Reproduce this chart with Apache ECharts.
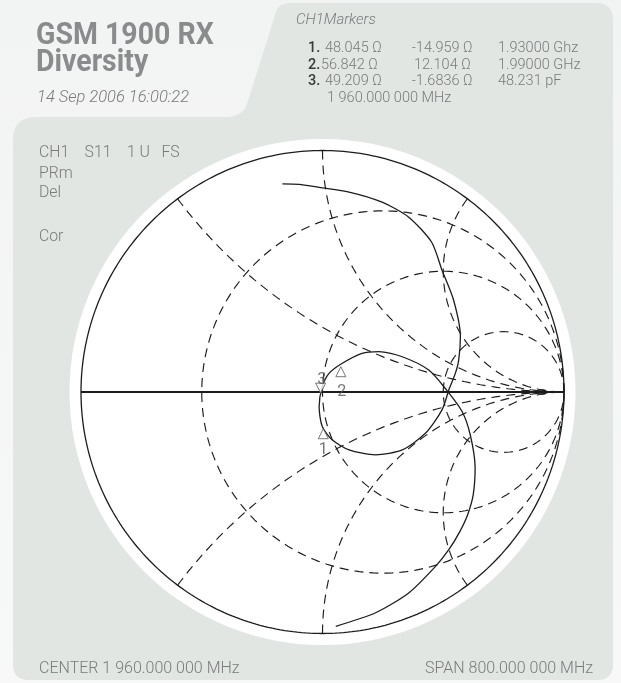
<!DOCTYPE html>
<html><head><meta charset="utf-8">
<script src="https://cdn.jsdelivr.net/npm/echarts@6/dist/echarts.min.js"></script>
<style>html,body{margin:0;padding:0;background:#f5f6f6;}#c{width:621px;height:683px;}</style>
</head><body><div id="c"></div>
<script>
const traceRe = [-0.166,-0.097,-0.014,0.110,0.247,0.357,0.452,0.495,0.543,0.571,0.564,0.550,0.523,0.495,0.426,0.330,0.220,0.110,0.040,-0.001,-0.014,-0.001,0.027,0.082,0.164,0.233,0.330,0.440,0.514,0.578,0.612,0.632,0.624,0.601,0.568,0.523,0.468,0.357,0.220,0.055];
const traceIm = [0.862,0.860,0.847,0.828,0.786,0.724,0.620,0.504,0.380,0.229,0.132,0.077,0.008,-0.074,-0.171,-0.240,-0.260,-0.240,-0.198,-0.143,-0.061,0.022,0.077,0.119,0.160,0.167,0.146,0.091,0.008,-0.081,-0.178,-0.314,-0.426,-0.508,-0.579,-0.653,-0.722,-0.832,-0.914,-0.970];

// markers (ohms)
const markerNames = ['1','2','3'];
const markerR = [48.045, 56.842, 49.209];
const markerX = [-14.959, 12.104, -1.6836];
const markerRText = ['48.045 Ω','56.842 Ω','49.209 Ω'];
const markerXText = ['-14.959 Ω','12.104 Ω','-1.6836 Ω'];
const markerThirdText = ['1.93000 Ghz','1.99000 GHz','48.231 pF'];
const markerFreqLine = '1 960.000 000 MHz';
const z0 = 50;

// Smith grid
const resistanceCircles = [1/3, 1, 3];
const reactanceArcs = [0.5, 1, 2, -0.5, -1, -2];
const refMarker = [0.909, 0];

// texts
const titleLines = ['GSM 1900 RX', 'Diversity'];
const dateText = '14 Sep 2006 16:00:22';
const markersTitle = 'CH1Markers';
const statusLines = ['CH1    S11    1 U   FS', 'PRm', 'Del', '', 'Cor'];
const centerText = 'CENTER 1 960.000 000 MHz';
const spanText = 'SPAN 800.000 000 MHz';

// ---- helpers ----
function toGamma(R, X) {
  const r = R / z0, x = X / z0, dr = r + 1, nr = r - 1, den = dr * dr + x * x;
  return [(nr * dr + x * x) / den, (x * dr - nr * x) / den];
}
function circlePts(cx, cy, rad, n) {
  const p = [];
  for (let i = 0; i <= n; i++) { const t = i / n * 2 * Math.PI; p.push([cx + rad * Math.cos(t), cy + rad * Math.sin(t)]); }
  return p;
}
function xArcPts(x) {
  const c = 1 / x, rho = Math.abs(c);
  const ix = (x * x - 1) / (x * x + 1), iy = 2 * x / (x * x + 1);
  let t0 = x > 0 ? -Math.PI / 2 : Math.PI / 2;
  let t1 = Math.atan2(iy - c, ix - 1);
  if (x > 0 && t1 > t0) t1 -= 2 * Math.PI;
  if (x < 0 && t1 < t0) t1 += 2 * Math.PI;
  const p = [], n = 80;
  for (let i = 0; i <= n; i++) { const t = t1 + (t0 - t1) * i / n; p.push([1 + rho * Math.cos(t), c + rho * Math.sin(t)]); }
  return p;
}
function roundedPoly(cmds) {
  const pts = []; let cur = null;
  for (const c of cmds) {
    if (c[0] === 'M' || c[0] === 'L') { cur = [c[1], c[2]]; pts.push(cur); }
    else {
      const cx = c[1], cy = c[2], x = c[3], y = c[4];
      for (let i = 1; i <= 14; i++) { const t = i / 14, a = (1 - t) * (1 - t), b = 2 * (1 - t) * t, d = t * t;
        pts.push([a * cur[0] + b * cx + d * x, a * cur[1] + b * cy + d * y]); }
      cur = [x, y];
    }
  }
  return pts;
}

const chart = echarts.init(document.getElementById('c'), null, {renderer: 'canvas'});
const INK = '#1c1c1c';
const dashStyle = {color: INK, width: 1.15, type: [9, 6]};
const series = [];
function lineSeries(data, style, z) {
  series.push({type: 'line', data, showSymbol: false, symbol: 'none', silent: true, clip: false,
    lineStyle: style, z: z || 3, animation: false});
}
resistanceCircles.forEach(r => lineSeries(circlePts(r / (1 + r), 0, 1 / (1 + r), 240), dashStyle));
reactanceArcs.forEach(x => lineSeries(xArcPts(x), dashStyle));
lineSeries(circlePts(0, 0, 1, 360), {color: INK, width: 1.3});
lineSeries([[-1, 0], [1, 0]], {color: INK, width: 1.8});
series.push({type: 'line', data: traceRe.map((re, i) => [re, traceIm[i]]), showSymbol: false, symbol: 'none',
  smooth: 0.25, clip: false, lineStyle: {color: INK, width: 1.3}, z: 4, animation: false, silent: true});
series.push({type: 'scatter', data: [refMarker], symbol: 'circle', symbolSize: [11, 6],
  itemStyle: {color: INK}, z: 5, silent: true, animation: false});

const gm = markerR.map((R, i) => toGamma(R, markerX[i]));
const symOff = [[0, 5], [0, 5], [0, -8]];
const labOff = [[0, 21], [1, 25], [1, -16]];
gm.forEach((g, i) => {
  series.push({type: 'scatter', data: [g], symbol: 'triangle', symbolSize: [10, 10],
    symbolRotate: i === 2 ? 180 : 0, symbolOffset: symOff[i],
    itemStyle: {color: '#ffffff', borderColor: '#555', borderWidth: 1}, z: 6, silent: true, animation: false});
  series.push({type: 'scatter', data: [g], symbolSize: 0.1, itemStyle: {color: 'rgba(0,0,0,0)'},
    label: {show: true, position: 'inside', offset: labOff[i], formatter: markerNames[i],
      fontFamily: 'Roboto', fontWeight: 400, fontSize: 16, color: '#555'}, z: 7, silent: true, animation: false});
});

const FONT = "Roboto, 'Liberation Sans', sans-serif";
const GREY = '#7a7a7a';
function txt(x, y, text, opt) {
  opt = opt || {};
  const el = {type: 'text', x, y, z: 10, silent: true, style: {text, fill: opt.fill || GREY,
    font: (opt.style || 'normal') + ' ' + (opt.weight || 300) + ' ' + (opt.size || 15) + 'px ' + (opt.family || FONT),
    textAlign: opt.align || 'left', textVerticalAlign: 'middle', align: opt.align || 'left', verticalAlign: 'middle'}};
  if (opt.scaleX) el.scaleX = opt.scaleX;
  return el;
}
const panel = roundedPoly([['M', 13, 140], ['Q', 13, 117, 36, 117], ['L', 224, 117], ['Q', 243, 117, 247, 104],
  ['L', 276, 12], ['Q', 279, 3, 290, 3], ['L', 596, 3], ['Q', 613, 3, 613, 20], ['L', 613, 664],
  ['Q', 613, 680, 597, 680], ['L', 29, 680], ['Q', 13, 680, 13, 664]]);

const TITLE = {weight: 'bold', size: 32, family: "Roboto, 'Liberation Sans', sans-serif", fill: '#8a8b8d', scaleX: 0.89};
const LEFT = 39;
const graphic = [
  {type: 'rect', z: -20, silent: true, shape: {x: 0, y: 0, width: 621, height: 683},
    style: {fill: new echarts.graphic.LinearGradient(0, 0, 0, 1, [{offset: 0, color: '#f2f3f3'}, {offset: 1, color: '#f8f8f8'}])}},
  {type: 'polygon', z: -15, silent: true, shape: {points: panel}, style: {fill: '#e1e6e3'}},
  {type: 'circle', z: -10, silent: true, shape: {cx: 322.5, cy: 392, r: 253}, style: {fill: '#ffffff'}},
  txt(36, 36, titleLines[0], TITLE),
  txt(36, 63, titleLines[1], TITLE),
  txt(37, 98, dateText, {style: 'italic', size: 16.5}),
  txt(296, 20, markersTitle, {style: 'italic', size: 15}),
  txt(LEFT, 668.5, centerText, {size: 16}),
  txt(593, 668.5, spanText, {size: 16, align: 'right'})
];
const lineY = [48.5, 65, 81.5];
const col1X = [325, 321, 325], col2X = [411.7, 414, 411.7];
markerNames.forEach((m, i) => {
  graphic.push(txt(308, lineY[i], m + '.', {weight: 500, size: 14.5, fill: '#3a3a3a'}));
  graphic.push(txt(col1X[i], lineY[i], markerRText[i], {size: 14.5}));
  graphic.push(txt(col2X[i], lineY[i], markerXText[i], {size: 14.5}));
  graphic.push(txt(498, lineY[i], markerThirdText[i], {size: 14.5}));
});
graphic.push(txt(327, 98.5, markerFreqLine, {size: 14.5}));
const statusY = [153, 174, 193, 215, 237];
statusLines.forEach((s, i) => { if (s) graphic.push(txt(LEFT, statusY[i], s, {size: 15.8})); });

chart.setOption({
  animation: false,
  backgroundColor: 'transparent',
  grid: {left: 81, top: 150.5, width: 483, height: 483},
  xAxis: {type: 'value', min: -1, max: 1, show: false},
  yAxis: {type: 'value', min: -1, max: 1, show: false},
  graphic,
  series
});
</script></body></html>
